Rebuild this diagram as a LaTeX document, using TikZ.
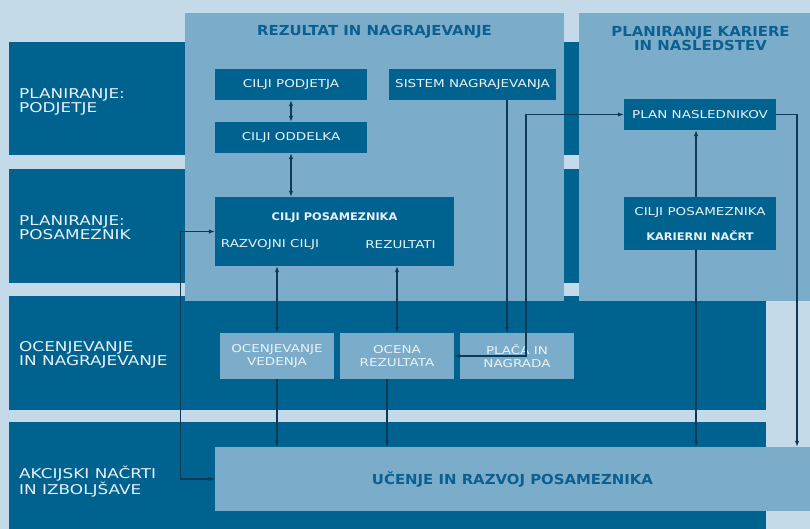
\documentclass[tikz,border=0pt]{standalone}
\usepackage{fontspec}
\setmainfont{DejaVu Sans}
\newfontfamily\wideregular{DejaVu Sans}[FakeStretch=1.25]
\newfontfamily\widebold{DejaVu Sans Bold}[FakeStretch=1.08]
\usetikzlibrary{arrows.meta}

\definecolor{bgLight}{HTML}{C5DAE8}
\definecolor{bandDark}{HTML}{00638F}
\definecolor{panelMid}{HTML}{7BADCB}
\definecolor{inkPale}{HTML}{E8F1F7}
\definecolor{lineNavy}{HTML}{0F3A56}
\definecolor{titleBlue}{HTML}{0B6090}

\tikzset{
  rowlabel/.style={anchor=west, align=left, text=inkPale, inner sep=0pt,
    font=\wideregular\fontsize{13.5}{14}\selectfont},
  paneltitle/.style={align=center, text=titleBlue, inner sep=0pt,
    font=\widebold\fontsize{13.8}{13}\selectfont},
  darkbox/.style={fill=bandDark, text=inkPale, inner sep=0pt, align=center,
    font=\wideregular\fontsize{10.8}{13}\selectfont},
  midbox/.style={fill=panelMid, text=inkPale, inner sep=0pt, align=center,
    font=\wideregular\fontsize{10.8}{13}\selectfont},
  boxtext/.style={text=inkPale, inner sep=0pt,
    font=\wideregular\fontsize{10.8}{13}\selectfont},
  boxbold/.style={text=inkPale, inner sep=0pt,
    font=\widebold\fontsize{10.5}{13}\selectfont},
  conn/.style={draw=lineNavy, line width=1.1pt,
    arrows={-}, >={Latex[length=6pt,width=4.5pt]}},
}

\begin{document}
\begin{tikzpicture}[x=1pt,y=-1pt]
% page background
\fill[bgLight] (0,0) rectangle (810,529);
\useasboundingbox (0,0) rectangle (810,529);

% horizontal process bands
\fill[bandDark] (9,42)  rectangle (766,155.5);
\fill[bandDark] (9,169) rectangle (766,282.5);
\fill[bandDark] (9,296) rectangle (766,410);
\fill[bandDark] (9,422) rectangle (766,529);

% column panels
\fill[panelMid] (185,13) rectangle (564,300.5);
\fill[panelMid] (579,13) rectangle (810,300.5);

% band labels
\node[rowlabel] (lab1) at (19,101.5) {PLANIRANJE:\\PODJETJE};
\node[rowlabel] (lab2) at (19,227.5) {PLANIRANJE:\\POSAMEZNIK};
\node[rowlabel] (lab3) at (19,354.5) {OCENJEVANJE\\IN NAGRAJEVANJE};
\node[rowlabel] (lab4) at (19,481.5) {AKCIJSKI NAČRTI\\IN IZBOLJŠAVE};

% panel titles
\node[paneltitle] (t1) at (374.5,32) {REZULTAT IN NAGRAJEVANJE};
\node[paneltitle] (t2) at (700.5,38.5) {PLANIRANJE KARIERE\\IN NASLEDSTEV};

% boxes in the planning rows
\node[darkbox, minimum width=152pt, minimum height=31pt] (pp) at (291,84.5) {CILJI PODJETJA};
\node[darkbox, minimum width=167pt, minimum height=31pt] (sn) at (472.5,84.5) {SISTEM NAGRAJEVANJA};
\node[darkbox, minimum width=152pt, minimum height=31pt] (co) at (291,137.5) {CILJI ODDELKA};
\node[darkbox, minimum width=239pt, minimum height=69pt] (cpos) at (334.5,231.5) {};
\node[boxbold] (cposT) at (334.5,218) {CILJI POSAMEZNIKA};
\node[boxtext] (rc) at (270,245) {RAZVOJNI CILJI};
\node[boxtext] (rz) at (400.5,245) {REZULTATI};
\node[darkbox, minimum width=152pt, minimum height=31pt] (pn) at (700,114.5) {PLAN NASLEDNIKOV};
\node[darkbox, minimum width=152pt, minimum height=53pt] (kn) at (700,223.5) {};
\node[boxtext] (knA) at (700,212.7) {CILJI POSAMEZNIKA};
\node[boxbold] (knB) at (700,235.7) {KARIERNI NAČRT};

% boxes in the assessment row
\node[midbox, minimum width=114pt, minimum height=46pt] (ov) at (277,356) {OCENJEVANJE\\VEDENJA};
\node[midbox, minimum width=114pt, minimum height=46pt] (ore) at (397,356) {OCENA\\REZULTATA};
\node[midbox, minimum width=114pt, minimum height=46pt] (pl) at (517,356) {PLAČA IN\\NAGRADA};

% learning and development box
\node[fill=panelMid, text=titleBlue, inner sep=0pt, minimum width=595pt, minimum height=64pt,
  font=\widebold\fontsize{13.8}{14}\selectfont] (ur) at (512.5,479) {UČENJE IN RAZVOJ POSAMEZNIKA};

% vertical routing columns
\coordinate (xa) at (387,0);
\coordinate (xs) at (507,0);
\coordinate (xb) at (526,0);
\coordinate (xc) at (696,0);
\coordinate (xd) at (797,0);

% connectors
\draw[conn,<->] (pp.south) -- (co.north);
\draw[conn,<->] (co.south) -- (co.south |- cpos.north);
\draw[conn,<->] (cpos.west) -- ++(-34,0) |- (ur.west);
\draw[conn,<->] (ov.north |- cpos.south) -- (ov.north);
\draw[conn,<->] (ore.north |- cpos.south) -- (ore.north);
\draw[conn,->] (ov.south) -- (ov.south |- ur.north);
\draw[conn,->] (ore.south -| xa) -- (ur.north -| xa);
\draw[conn,->] (sn.south -| xs) -- (pl.north -| xs);
\draw[conn,<->] (ore.east) -| (pn.west -| xb) -- (pn.west);
\draw[conn,->] (kn.north -| xc) -- (pn.south -| xc);
\draw[conn,->] (kn.south -| xc) -- (ur.north -| xc);
\draw[conn,->] (pn.east) -| (ur.north -| xd);
\end{tikzpicture}
\end{document}
